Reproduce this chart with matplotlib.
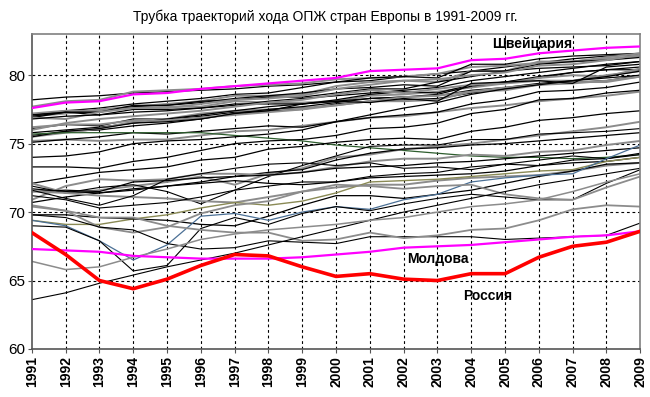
import matplotlib
matplotlib.use("Agg")
import matplotlib.pyplot as plt

years = list(range(1991, 2010))
year_labels = [str(y) for y in years]
y_ticks = [60, 65, 70, 75, 80]

switzerland = [77.6, 78.0, 78.1, 78.6, 78.7, 79.0, 79.2, 79.4, 79.6, 79.8, 80.3, 80.4, 80.5, 81.1, 81.2, 81.6, 81.8, 82.0, 82.1]
moldova = [67.3, 67.2, 67.1, 66.8, 66.7, 66.6, 66.6, 66.6, 66.7, 66.9, 67.1, 67.4, 67.5, 67.6, 67.8, 68.0, 68.2, 68.3, 68.6]
russia = [68.5, 66.9, 65.0, 64.4, 65.1, 66.1, 66.9, 66.8, 66.0, 65.3, 65.5, 65.1, 65.0, 65.5, 65.5, 66.7, 67.5, 67.8, 68.6]

iceland = [78.2, 78.4, 78.5, 78.7, 78.8, 78.9, 79.0, 79.2, 79.3, 79.5, 79.6, 79.9, 80.1, 80.3, 80.6, 80.9, 81.2, 81.4, 81.5]
sweden = [77.7, 78.1, 78.2, 78.8, 78.9, 79.0, 79.2, 79.3, 79.4, 79.7, 79.8, 79.9, 80.1, 80.6, 80.7, 80.9, 81.0, 81.2, 81.4]
italy = [77.1, 77.4, 77.6, 77.9, 78.1, 78.3, 78.6, 78.7, 79.1, 79.5, 79.8, 79.9, 79.8, 80.8, 80.8, 81.2, 81.4, 81.5, 81.6]
spain = [77.0, 77.2, 77.5, 77.7, 77.9, 78.1, 78.5, 78.5, 78.6, 79.2, 79.5, 79.6, 79.5, 80.3, 80.3, 81.0, 81.0, 81.3, 81.6]
france = [77.0, 77.3, 77.3, 77.7, 77.8, 78.0, 78.3, 78.5, 78.7, 79.0, 79.1, 79.3, 79.2, 80.3, 80.3, 80.8, 81.0, 81.1, 81.3]
greece = [77.2, 77.4, 77.4, 77.6, 77.7, 77.7, 78.1, 78.0, 78.0, 78.1, 78.5, 78.6, 78.8, 79.1, 79.4, 79.6, 79.6, 80.0, 80.3]
netherlands = [77.1, 77.3, 77.1, 77.5, 77.5, 77.6, 77.9, 77.9, 77.9, 78.1, 78.3, 78.4, 78.6, 79.2, 79.5, 79.8, 80.2, 80.4, 80.6]
norway = [76.9, 77.3, 77.3, 77.8, 77.8, 78.1, 78.2, 78.4, 78.4, 78.7, 79.0, 79.0, 79.5, 79.9, 80.3, 80.5, 80.6, 80.7, 81.0]
israel = [76.9, 76.8, 77.3, 77.6, 77.6, 77.9, 78.2, 78.3, 78.5, 79.0, 79.3, 79.6, 79.7, 80.0, 80.2, 80.7, 80.8, 81.1, 81.5]
cyprus = [76.8, 77.0, 77.1, 77.3, 77.4, 77.6, 77.8, 78.1, 78.3, 78.5, 78.7, 78.9, 79.1, 79.6, 79.9, 80.2, 80.5, 80.8, 81.0]
uk = [76.1, 76.4, 76.3, 76.8, 76.8, 77.0, 77.3, 77.4, 77.5, 77.9, 78.1, 78.2, 78.3, 78.7, 79.0, 79.3, 79.5, 79.6, 80.0]
belgium = [76.2, 76.4, 76.4, 76.7, 76.8, 77.2, 77.4, 77.5, 77.6, 77.8, 78.1, 78.1, 78.2, 78.8, 78.9, 79.3, 79.5, 79.5, 79.9]
austria = [75.8, 76.0, 76.2, 76.5, 76.8, 77.1, 77.4, 77.7, 77.9, 78.2, 78.6, 78.8, 78.7, 79.3, 79.5, 79.9, 80.2, 80.4, 80.4]
malta = [76.0, 76.5, 76.8, 77.0, 77.2, 77.4, 77.7, 78.0, 78.2, 78.6, 78.9, 78.7, 79.0, 79.3, 79.4, 79.8, 80.0, 79.9, 80.5]
germany = [75.6, 75.9, 76.0, 76.3, 76.5, 76.8, 77.2, 77.5, 77.7, 78.0, 78.3, 78.4, 78.5, 78.9, 79.1, 79.4, 79.6, 79.8, 80.0]
finland = [75.5, 75.8, 76.1, 76.6, 76.7, 76.9, 77.1, 77.3, 77.5, 77.8, 78.1, 78.4, 78.5, 78.8, 79.1, 79.3, 79.4, 79.6, 79.9]
luxembourg = [75.5, 75.9, 76.1, 76.5, 76.6, 76.8, 77.2, 77.4, 77.9, 78.1, 78.0, 78.3, 78.1, 79.4, 79.5, 79.6, 79.4, 80.6, 80.8]
denmark = [75.2, 75.3, 75.2, 75.3, 75.3, 75.6, 75.9, 76.0, 76.3, 76.6, 76.9, 77.0, 77.3, 77.6, 77.8, 78.1, 78.3, 78.5, 78.8]
ireland = [75.1, 75.3, 75.5, 75.8, 75.7, 75.9, 76.1, 76.3, 76.2, 76.6, 77.1, 77.6, 78.0, 78.6, 79.0, 79.3, 79.6, 79.9, 80.3]
green_line = [75.7, 75.8, 75.8, 75.8, 75.8, 75.8, 75.6, 75.4, 75.2, 74.9, 74.7, 74.5, 74.3, 74.1, 74.0, 74.0, 73.9, 74.0, 74.2]
portugal = [74.0, 74.1, 74.4, 75.0, 75.2, 75.3, 75.5, 75.7, 76.0, 76.6, 76.9, 77.1, 77.3, 77.9, 78.2, 78.8, 78.9, 79.1, 79.5]
slovenia = [73.3, 73.3, 73.2, 73.7, 74.0, 74.5, 75.0, 75.2, 75.3, 75.6, 76.1, 76.2, 76.5, 77.2, 77.5, 78.2, 78.3, 78.7, 78.9]
czechia = [72.1, 72.5, 72.9, 73.1, 73.3, 73.8, 74.0, 74.6, 74.8, 75.1, 75.3, 75.4, 75.3, 75.9, 76.2, 76.7, 76.9, 77.2, 77.4]
albania = [72.1, 71.4, 71.6, 71.9, 72.2, 72.6, 72.0, 72.8, 73.2, 74.0, 74.2, 74.6, 74.8, 75.0, 75.3, 75.6, 75.9, 76.2, 76.6]
croatia = [71.9, 71.4, 71.8, 72.0, 71.5, 70.6, 71.6, 72.6, 73.4, 74.1, 74.8, 74.9, 74.9, 75.3, 75.3, 75.7, 75.8, 75.9, 76.1]
poland = [70.7, 71.1, 71.4, 71.6, 71.9, 72.2, 72.6, 72.9, 73.1, 73.8, 74.3, 74.6, 74.7, 74.9, 75.0, 75.2, 75.4, 75.6, 75.8]
slovakia = [70.9, 71.9, 72.4, 72.3, 72.4, 72.8, 72.8, 72.7, 72.9, 73.3, 73.7, 73.9, 73.9, 74.2, 74.1, 74.4, 74.5, 74.9, 75.2]
macedonia = [71.5, 71.6, 71.5, 72.2, 72.3, 72.5, 72.6, 72.7, 72.9, 73.2, 73.3, 73.4, 73.6, 73.7, 73.9, 74.1, 74.3, 74.5, 74.7]
serbia = [71.7, 71.5, 71.4, 71.7, 71.9, 72.1, 72.3, 72.1, 72.0, 72.2, 72.5, 72.6, 72.7, 72.8, 73.0, 73.4, 73.6, 73.7, 74.0]
bulgaria = [71.5, 71.4, 71.2, 71.1, 71.0, 70.8, 70.7, 71.1, 71.5, 71.8, 72.0, 72.0, 72.3, 72.5, 72.6, 72.7, 73.0, 73.4, 73.6]
armenia = [71.6, 71.0, 70.5, 71.2, 72.4, 72.8, 73.2, 73.5, 73.6, 73.4, 73.6, 73.2, 73.3, 73.1, 73.5, 73.4, 73.8, 73.9, 74.2]
georgia = [71.2, 70.9, 70.3, 70.5, 70.7, 71.1, 71.6, 71.9, 72.2, 72.2, 72.6, 72.8, 72.9, 73.3, 73.5, 73.8, 74.1, 73.9, 74.3]
hungary = [69.4, 69.1, 69.1, 69.5, 69.8, 70.3, 70.7, 70.5, 70.8, 71.4, 72.2, 72.3, 72.4, 72.6, 72.8, 73.0, 73.1, 73.7, 74.0]
romania = [69.8, 69.8, 69.6, 69.5, 69.4, 69.1, 69.0, 69.7, 70.5, 71.2, 71.2, 71.0, 71.3, 71.6, 72.1, 72.6, 73.0, 73.5, 73.6]
estonia = [69.4, 69.0, 67.9, 66.5, 67.6, 69.7, 69.9, 69.4, 70.0, 70.4, 70.2, 70.9, 71.3, 72.2, 72.5, 72.7, 72.8, 73.9, 74.9]
latvia = [69.0, 68.9, 67.9, 65.7, 66.1, 68.8, 69.6, 69.1, 69.9, 70.4, 70.1, 70.6, 71.0, 71.3, 71.1, 70.9, 70.9, 72.1, 73.1]
lithuania = [70.4, 70.1, 68.9, 68.5, 68.9, 69.9, 70.5, 70.8, 71.5, 72.0, 71.9, 71.7, 71.9, 72.0, 71.3, 71.0, 70.9, 71.8, 72.6]
ukraine = [69.8, 69.6, 68.9, 68.7, 67.7, 67.3, 67.4, 67.9, 67.8, 67.7, 68.2, 68.2, 68.2, 68.2, 68.0, 68.1, 68.2, 68.3, 69.2]
belarus = [70.5, 70.1, 69.6, 69.6, 69.0, 68.7, 68.5, 68.5, 67.9, 68.0, 68.5, 68.1, 68.3, 68.7, 68.8, 69.4, 70.2, 70.5, 70.4]
turkey = [63.6, 64.1, 64.8, 65.4, 66.0, 66.5, 67.0, 67.6, 68.2, 68.8, 69.4, 70.0, 70.5, 71.0, 71.5, 72.0, 72.4, 72.8, 73.2]
azerbaijan = [66.4, 65.8, 66.0, 66.7, 67.3, 68.0, 68.4, 68.7, 68.9, 69.1, 69.4, 69.6, 70.0, 70.4, 70.6, 70.9, 71.5, 72.2, 72.8]

BLACK = "#000000"
GRAY = "#8c8c8c"
others = [
    (iceland, BLACK, 0.9), (sweden, GRAY, 1.4), (italy, BLACK, 0.9), (spain, GRAY, 1.4),
    (france, BLACK, 0.9), (greece, GRAY, 1.4), (netherlands, BLACK, 0.9), (norway, BLACK, 0.9),
    (israel, GRAY, 1.4), (cyprus, BLACK, 0.9), (uk, BLACK, 0.9), (belgium, GRAY, 1.4),
    (austria, BLACK, 0.9), (malta, GRAY, 1.4), (germany, BLACK, 0.9), (finland, GRAY, 1.4),
    (luxembourg, BLACK, 0.9), (denmark, GRAY, 1.4), (ireland, BLACK, 0.9),
    (green_line, "#2e5e2e", 0.9), (portugal, BLACK, 0.9), (slovenia, BLACK, 0.9),
    (czechia, BLACK, 0.9), (albania, GRAY, 1.4), (croatia, BLACK, 0.8), (poland, BLACK, 0.9),
    (slovakia, GRAY, 1.4), (macedonia, BLACK, 0.9), (serbia, BLACK, 0.9), (bulgaria, GRAY, 1.4),
    (armenia, BLACK, 0.8), (georgia, BLACK, 0.8), (hungary, "#8a8a55", 1.0), (romania, BLACK, 0.9),
    (estonia, "#4a6f95", 0.9), (latvia, BLACK, 0.8), (lithuania, GRAY, 1.3), (ukraine, BLACK, 0.8),
    (belarus, GRAY, 1.3), (turkey, BLACK, 0.8), (azerbaijan, GRAY, 1.1),
]

plt.rcParams['font.family'] = ['Liberation Sans', 'DejaVu Sans']
fig = plt.figure(figsize=(6.5, 3.97), dpi=100)
ax = fig.add_axes([0.049, 0.121, 0.936, 0.793])

for vals, col, lw in others:
    ax.plot(years, vals, color=col, lw=lw, zorder=2)

ax.plot(years, switzerland, color="#ff00ff", lw=1.6, zorder=3)
ax.plot(years, moldova, color="#ff00ff", lw=1.6, zorder=3)
ax.plot(years, russia, color="#ff0000", lw=2.6, zorder=4)

ax.set_xlim(1991, 2009)
ax.set_ylim(60, 83)
ax.set_xticks(years)
ax.set_xticklabels(year_labels, rotation=90, fontsize=10, fontweight='bold')
ax.set_yticks(y_ticks)
ax.set_yticklabels([str(v) for v in y_ticks], fontsize=11)
ax.tick_params(axis='both', direction='out', length=3, width=0.8, color='#555555', pad=2)

for v in y_ticks[1:]:
    ax.axhline(v, color='black', lw=0.8, ls=(0, (2.5, 2.5)), zorder=1)
for yv in years[1:-1]:
    ax.axvline(yv, color='black', lw=0.8, ls=(0, (2.5, 2.5)), zorder=1)

for s in ['left', 'bottom']:
    ax.spines[s].set_color('#555555')
    ax.spines[s].set_linewidth(1.2)
for s in ['top', 'right']:
    ax.spines[s].set_color('#808080')
    ax.spines[s].set_linewidth(1.2)

ax.text(2005.8, 82.3, "Швейцария", fontsize=10, fontweight='bold', ha='center', va='center', zorder=5)
ax.text(2003.0, 66.6, "Молдова", fontsize=10, fontweight='bold', ha='center', va='center', zorder=5)
ax.text(2004.5, 63.9, "Россия", fontsize=10, fontweight='bold', ha='center', va='center', zorder=5)

fig.suptitle("Трубка траекторий хода ОПЖ стран Европы в 1991-2009 гг.", fontsize=10, y=0.975)

fig.savefig("out.png", dpi=100)
